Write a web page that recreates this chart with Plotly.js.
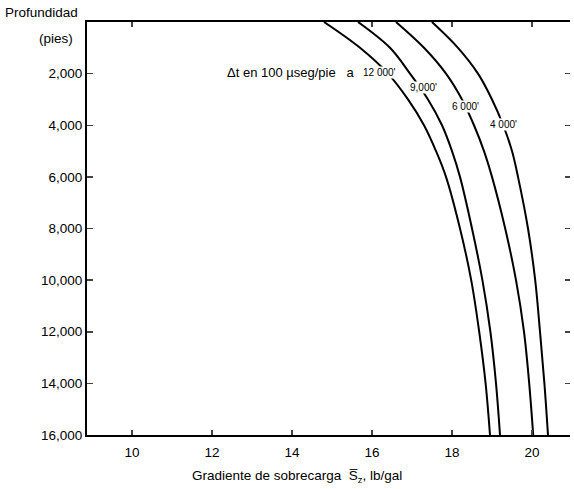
<!DOCTYPE html>
<html>
<head>
<meta charset="utf-8">
<script src="https://cdn.plot.ly/plotly-3.0.1.min.js"></script>
<style>html,body{margin:0;padding:0;background:#fff;}</style>
</head>
<body>
<div id="chart" style="width:574px;height:489px;"></div>
<script>
// Depth (ft) sample points shared by all curves
const depths = [0, 1000, 2000, 3000, 4000, 5000, 6000, 8000, 10000, 12000, 14000, 16000];
// Overburden gradient (lb/gal), named by the Δt label on it
const curve12000 = [14.8, 15.7, 16.4, 16.9, 17.3, 17.6, 17.85, 18.2, 18.48, 18.68, 18.84, 18.95];
const curve9000  = [15.65, 16.45, 16.95, 17.4, 17.75, 18.0, 18.2, 18.5, 18.76, 18.96, 19.1, 19.2];
const curve6000  = [16.6, 17.3, 17.85, 18.25, 18.55, 18.8, 19.0, 19.33, 19.6, 19.8, 19.93, 20.03];
const curve4000  = [17.5, 18.15, 18.65, 19.0, 19.28, 19.5, 19.65, 19.9, 20.08, 20.2, 20.31, 20.4];
const curveLabels = ["12 000'", "9,000'", "6 000'", "4 000'"];
const labelDepths = [1975, 2520, 3290, 3990];

const xTicks = [10, 12, 14, 16, 18, 20];
const topTicks = [10, 16, 18, 20];
const yTicks = [2000, 4000, 6000, 8000, 10000, 12000, 14000, 16000];
const yTickText = ["2,000", "4,000", "6,000", "8,000", "10,000", "12,000", "14,000", "16,000"];

const series = [curve12000, curve9000, curve6000, curve4000];

function interp(xs, d) {
  for (let i = 0; i < depths.length - 1; i++) {
    if (d >= depths[i] && d <= depths[i + 1]) {
      const t = (d - depths[i]) / (depths[i + 1] - depths[i]);
      return xs[i] + t * (xs[i + 1] - xs[i]);
    }
  }
  return xs[xs.length - 1];
}

const FONT = "Liberation Sans, Arial, sans-serif";
const XR = [8.875, 20.95];

const traces = series.map((s) => ({
  x: s, y: depths, type: 'scatter', mode: 'lines',
  line: {color: '#000', width: 2, shape: 'spline', smoothing: 1},
  hoverinfo: 'skip', showlegend: false
}));
// empty trace carrying the mirrored (top / right) tick axes
traces.push({x: [], y: [], xaxis: 'x2', yaxis: 'y2', type: 'scatter', mode: 'lines', showlegend: false});

const labelShift = [-8, 4, 0, 0];
const annotations = [];
series.forEach((s, i) => {
  annotations.push({
    x: interp(s, labelDepths[i]), y: labelDepths[i], xref: 'x', yref: 'y', xshift: labelShift[i],
    text: curveLabels[i], showarrow: false, bgcolor: '#fff', borderpad: 0,
    font: {family: FONT, size: 10, color: '#000'}
  });
});
annotations.push({
  x: interp(curve12000, labelDepths[0]), y: labelDepths[0], xref: 'x', yref: 'y',
  xanchor: 'right', xshift: -30, text: 'Δt en 100 µseg/pie   a', showarrow: false,
  font: {family: FONT, size: 13, color: '#000'}
});
annotations.push({
  x: -0.174, y: 1.022, xref: 'paper', yref: 'paper', xanchor: 'left', yanchor: 'middle',
  text: 'Profundidad', showarrow: false, font: {family: FONT, size: 13.5, color: '#000'}
});
annotations.push({
  x: -0.025, y: 0.96, xref: 'paper', yref: 'paper', xanchor: 'right', yanchor: 'middle',
  text: '(pies)', showarrow: false, font: {family: FONT, size: 13.5, color: '#000'}
});
annotations.push({
  x: 0.435, y: -0.1, xref: 'paper', yref: 'paper', xanchor: 'center', yanchor: 'middle',
  text: 'Gradiente de sobrecarga  S\u0305<sub>z</sub>, lb/gal', showarrow: false,
  font: {family: FONT, size: 13.5, color: '#000'}
});

const layout = {
  width: 574, height: 489,
  margin: {l: 87, r: 4, t: 22, b: 54},
  paper_bgcolor: '#fff', plot_bgcolor: '#fff',
  font: {family: FONT, size: 13.5, color: '#000'},
  xaxis: {
    range: XR, tickvals: xTicks, ticks: 'inside', ticklen: 5, tickwidth: 1.5,
    showline: true, linewidth: 2, linecolor: '#000', mirror: true,
    showgrid: false, zeroline: false, tickfont: {size: 13.5}, ticklabelstandoff: 4
  },
  yaxis: {
    range: [16000, 0], tickvals: yTicks, ticktext: yTickText, ticks: 'inside', ticklen: 6, tickwidth: 1.5,
    showline: true, linewidth: 2, linecolor: '#000', mirror: false,
    showgrid: false, zeroline: false, tickfont: {size: 13.5}
  },
  xaxis2: {
    overlaying: 'x', side: 'top', range: XR, tickvals: topTicks,
    ticks: 'inside', ticklen: 5, tickwidth: 1.5, showticklabels: false, showline: false, showgrid: false, zeroline: false
  },
  yaxis2: {
    overlaying: 'y', side: 'right', range: [16000, 0], tickvals: yTicks,
    ticks: 'inside', ticklen: 5, tickwidth: 1.5, showticklabels: false, showline: false, showgrid: false, zeroline: false
  },
  annotations: annotations
};

Plotly.newPlot('chart', traces, layout, {displayModeBar: false, staticPlot: true});
</script>
</body>
</html>
